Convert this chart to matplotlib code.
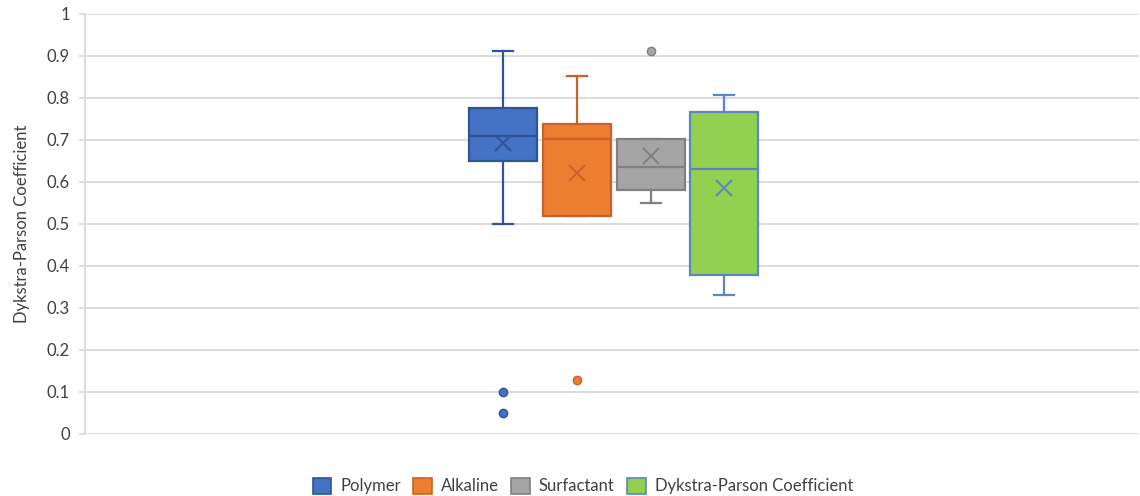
"""Box plot of Dykstra-Parson coefficient by flooding method."""

import matplotlib.pyplot as plt
import numpy as np
from matplotlib.patches import Patch

plt.rcParams["font.family"] = ["Lato", "DejaVu Sans"]

# summary statistics per method
labels = ["Polymer", "Alkaline", "Surfactant", "Dykstra-Parson Coefficient"]
q1 = [0.651, 0.520, 0.582, 0.378]
medians = [0.710, 0.702, 0.636, 0.631]
q3 = [0.775, 0.739, 0.702, 0.766]
whisker_low = [0.500, 0.520, 0.551, 0.330]
whisker_high = [0.912, 0.852, 0.702, 0.806]
means = [0.692, 0.622, 0.662, 0.586]
outliers = [[0.10, 0.05], [0.128], [0.912], []]

face_colors = ["#4472C4", "#ED7D31", "#A5A5A5", "#92D050"]
edge_colors = ["#2F5597", "#C8622A", "#808080", "#5B86C2"]

stats = []
for i, name in enumerate(labels):
    stats.append({
        "label": name,
        "q1": q1[i],
        "med": medians[i],
        "q3": q3[i],
        "whislo": whisker_low[i],
        "whishi": whisker_high[i],
        "mean": means[i],
        "fliers": np.array(outliers[i]),
    })

fig = plt.figure(figsize=(11.4, 4.96), dpi=100)
ax = fig.add_axes([0.0746, 0.125, 0.9245, 0.8468])

step = 0.0699
positions = 0.5018 + (np.arange(len(labels)) - 1.5) * step
box_w = 0.0645
cap_w = 0.019

for i, st in enumerate(stats):
    ec = edge_colors[i]
    ax.bxp(
        [st],
        positions=[positions[i]],
        widths=box_w,
        capwidths=cap_w,
        patch_artist=True,
        showmeans=True,
        boxprops=dict(facecolor=face_colors[i], edgecolor=ec, linewidth=1.6),
        medianprops=dict(color=ec, linewidth=1.6),
        whiskerprops=dict(color=ec, linewidth=1.6),
        capprops=dict(color=ec, linewidth=1.6),
        meanprops=dict(marker="x", markeredgecolor=ec, markersize=12,
                       markeredgewidth=1.4),
        flierprops=dict(marker="o", markerfacecolor=face_colors[i],
                        markeredgecolor=ec, markersize=6, markeredgewidth=1.0),
        zorder=3,
    )

ax.set_xlim(0, 1)
ax.set_ylim(0, 1)
ax.set_yticks(np.arange(0, 1.01, 0.1))
ax.set_yticklabels(["0", "0.1", "0.2", "0.3", "0.4", "0.5", "0.6", "0.7",
                    "0.8", "0.9", "1"])
ax.set_xticks([])
ax.grid(axis="y", color="#D9D9D9", linewidth=1.3, zorder=0)
ax.set_axisbelow(True)
for side in ["top", "right", "bottom"]:
    ax.spines[side].set_visible(False)
ax.spines["left"].set_color("#D9D9D9")
ax.spines["left"].set_linewidth(1.3)
ax.tick_params(axis="y", length=4, width=1.3, color="#D9D9D9",
               labelsize=12, labelcolor="#404040", pad=7)
ax.set_ylabel("Dykstra-Parson Coefficient", fontsize=12, color="#404040",
              labelpad=12)

handles = [Patch(facecolor=face_colors[i], edgecolor=edge_colors[i],
                 linewidth=1.2, label=labels[i]) for i in range(len(labels))]
fig.legend(handles=handles, loc="center", bbox_to_anchor=(0.5114, 0.02),
           ncol=4, frameon=False, fontsize=12, handlelength=1.1,
           handleheight=1.1, handletextpad=0.55, columnspacing=0.75,
           labelcolor="#404040")

fig.savefig("out.png", dpi=100)
